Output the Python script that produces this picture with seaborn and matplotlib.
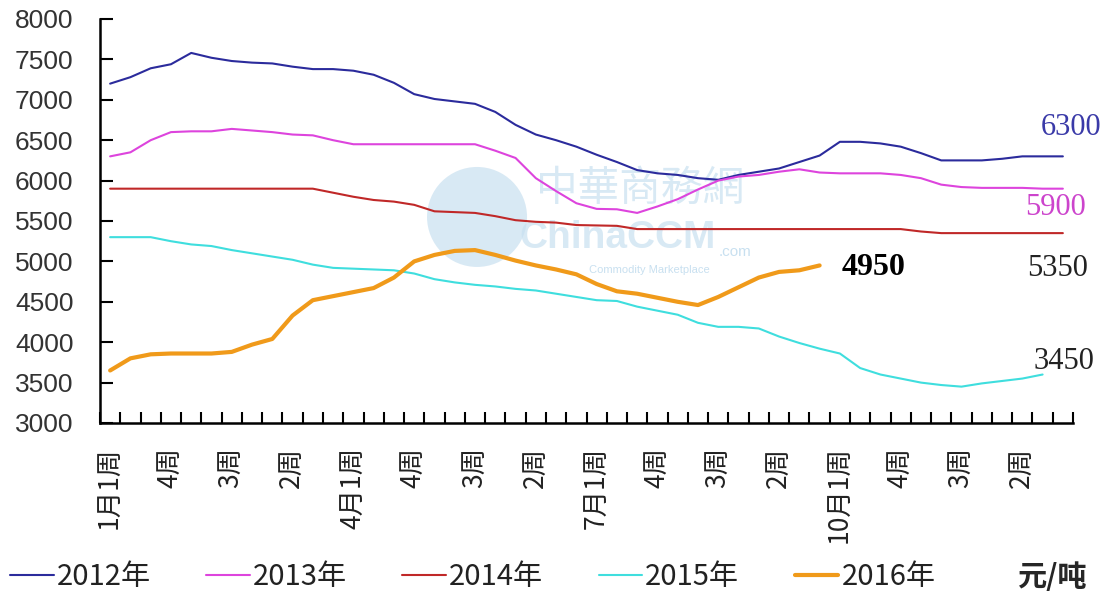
import numpy as np
import pandas as pd
import matplotlib
matplotlib.use("Agg")
import matplotlib.pyplot as plt
import seaborn as sns
from matplotlib.patches import Ellipse

# 周价格 (元/吨), 每年按 48 周 (每月 4 周)
years = ["2012年", "2013年", "2014年", "2015年", "2016年"]

price_2012 = [7200, 7280, 7390, 7440, 7580, 7520, 7480, 7460, 7450, 7410,
              7380, 7380, 7360, 7310, 7210, 7070, 7010, 6980, 6950, 6850,
              6690, 6570, 6500, 6420, 6320, 6230, 6130, 6090, 6070, 6030,
              6010, 6070, 6110, 6150, 6230, 6310, 6480, 6480, 6460, 6420,
              6340, 6250, 6250, 6250, 6270, 6300, 6300, 6300]
price_2013 = [6300, 6350, 6500, 6600, 6610, 6610, 6640, 6620, 6600, 6570,
              6560, 6500, 6450, 6450, 6450, 6450, 6450, 6450, 6450, 6370,
              6280, 6030, 5870, 5720, 5650, 5645, 5600, 5680, 5770, 5890,
              6000, 6050, 6070, 6110, 6140, 6100, 6090, 6090, 6090, 6070,
              6030, 5950, 5920, 5910, 5910, 5910, 5900, 5900]
price_2014 = [5900, 5900, 5900, 5900, 5900, 5900, 5900, 5900, 5900, 5900,
              5900, 5850, 5800, 5760, 5740, 5700, 5620, 5610, 5600, 5560,
              5510, 5490, 5480, 5450, 5445, 5440, 5400, 5400, 5400, 5400,
              5400, 5400, 5400, 5400, 5400, 5400, 5400, 5400, 5400, 5400,
              5370, 5350, 5350, 5350, 5350, 5350, 5350, 5350]
price_2015 = [5300, 5300, 5300, 5250, 5210, 5190, 5140, 5100, 5060, 5020,
              4960, 4920, 4910, 4900, 4890, 4850, 4780, 4740, 4710, 4690,
              4660, 4640, 4600, 4560, 4520, 4510, 4440, 4390, 4340, 4240,
              4190, 4190, 4170, 4070, 3990, 3920, 3860, 3680, 3600, 3550,
              3500, 3470, 3450, 3490, 3520, 3550, 3600]
price_2016 = [3650, 3800, 3850, 3860, 3860, 3860, 3880, 3970, 4040, 4330,
              4520, 4570, 4620, 4670, 4800, 5000, 5080, 5130, 5140, 5080,
              5010, 4950, 4900, 4840, 4720, 4630, 4600, 4550, 4500, 4460,
              4560, 4680, 4800, 4870, 4890, 4950]

week_labels = ["1月1周", "4周", "3周", "2周", "4月1周", "4周", "3周", "2周",
               "7月1周", "4周", "3周", "2周", "10月1周", "4周", "3周", "2周"]
end_labels = ["6300", "5900", "5350", "3450", "4950"]

series = [price_2012, price_2013, price_2014, price_2015, price_2016]
colors = ["#2b2b9c", "#dd44dd", "#c02828", "#3fdede", "#f09a1a"]
widths = [1.5, 1.5, 1.5, 1.5, 3.0]

sns.set_style("white")
plt.rcParams["font.family"] = ["Noto Sans CJK SC", "DejaVu Sans"]

fig = plt.figure(figsize=(11.1, 5.94), dpi=100)
ax = fig.add_axes([100 / 1110, 1 - 423 / 594, 973 / 1110, 404 / 594])

# 水印
wm = "#c8e0f0"
ax.add_patch(Ellipse((0.3875, 0.51), 0.1028, 0.2475, transform=ax.transAxes,
                     color=wm, alpha=0.7, zorder=0, lw=0))
ax.text(0.555, 0.577, "中華商務網", transform=ax.transAxes, ha="center", va="center",
        fontsize=30, color=wm, alpha=0.7, zorder=0)
ax.text(0.532, 0.458, "ChinaCCM", transform=ax.transAxes, ha="center", va="center",
        fontsize=28, fontweight="bold", color=wm, alpha=0.7, zorder=0,
        family=["Liberation Sans", "DejaVu Sans"])
ax.text(0.653, 0.423, ".com", transform=ax.transAxes, ha="center", va="center",
        fontsize=11, color=wm, zorder=0, family=["Liberation Sans", "DejaVu Sans"])
ax.text(0.565, 0.379, "Commodity Marketplace", transform=ax.transAxes, ha="center",
        va="center", fontsize=8, color=wm, zorder=0, family=["Liberation Sans", "DejaVu Sans"])

for name, vals, c, lw in zip(years, series, colors, widths):
    df = pd.DataFrame({"week": np.arange(len(vals)), "price": vals})
    sns.lineplot(data=df, x="week", y="price", color=c, lw=lw, ax=ax, label=name)

handles, labels = ax.get_legend_handles_labels()
ax.legend_.remove()

# 末端数值标注 (偏移: 像素, 向上为正)
offsets = [(8, 29), (-7, -19), (-5, -35), (21, 13), (54, -2)]
label_colors = ["#3a3aa8", "#cc44cc", "#222222", "#222222", "#000000"]
for vals, txt, off, c, i in zip(series, end_labels, offsets, label_colors, range(5)):
    ax.annotate(txt, xy=(len(vals) - 1, vals[-1]), xytext=off,
                textcoords="offset pixels", ha="center", va="center", color=c,
                fontsize=22 if i < 4 else 23, fontweight="bold" if i == 4 else "normal",
                family=["Liberation Serif", "DejaVu Serif"])

ax.set_xlim(-0.5, 47.5)
ax.set_ylim(3000, 8000)
ax.set_yticks(range(3000, 8001, 500))
ax.set_xticks(np.arange(0, 48, 3))
ax.set_xticklabels(week_labels, rotation=90, fontsize=19, color="#222222")
ax.set_xticks(np.arange(-0.5, 48, 1), minor=True)
for lab in ax.get_yticklabels():
    lab.set_fontfamily(["Liberation Sans", "DejaVu Sans"])
    lab.set_fontsize(19)
    lab.set_color("#333333")
ax.tick_params(axis="x", which="major", bottom=True, length=0, pad=17)
ax.tick_params(axis="x", which="minor", bottom=True, direction="in", length=8,
               width=1.5, color="black")
ax.tick_params(axis="y", which="major", left=True, direction="in", length=9, width=1.5,
               color="black", pad=19)
ax.set_xlabel("")
ax.set_ylabel("")
for s in ["top", "right"]:
    ax.spines[s].set_visible(False)
for s in ["left", "bottom"]:
    ax.spines[s].set_color("black")
    ax.spines[s].set_linewidth(1.8)
ax.grid(False)

fig.legend(handles, labels, loc="center left", bbox_to_anchor=(10 / 1110, 1 - 577 / 594),
           ncol=5, frameon=False, fontsize=21, handlelength=1.5, handletextpad=0.1,
           columnspacing=1.9, borderaxespad=0, borderpad=0, labelcolor="#222222")
fig.text(1052 / 1110, 1 - 577 / 594, "元/吨", ha="center", va="center",
         fontsize=21, fontweight="bold")

fig.savefig("out.png", dpi=100)
